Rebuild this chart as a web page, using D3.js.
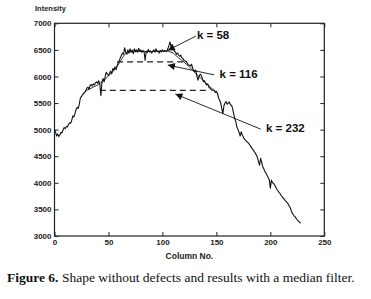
<!DOCTYPE html>
<html><head><meta charset="utf-8">
<script src="https://cdn.jsdelivr.net/npm/d3@7"></script>
<style>body{margin:0;background:#fff}svg{display:block}</style>
</head><body><svg id="c" width="371" height="299"></svg>
<script>
const xTicks=[0,50,100,150,200,250];
const yTicks=[3000,3500,4000,4500,5000,5500,6000,6500,7000];
const rawCols=[0,1,2,3,4,5,6,7,8,9,10,11,12,13,14,15,16,17,18,19,20,21,22,23,24,25,26,27,28,29,30,31,32,33,34,35,36,37,38,39,40,41,42,43,44,45,46,47,48,49,50,51,52,53,54,55,56,57,58,59,60,61,62,63,64,65,66,67,68,69,70,71,72,73,74,75,76,77,78,79,80,81,82,83,84,85,86,87,88,89,90,91,92,93,94,95,96,97,98,99,100,101,102,103,104,105,106,107,108,109,110,111,112,113,114,115,116,117,118,119,120,122,124,126,127,128,130,131,132,133,134,135,136,137,138,139,140,141,142,143,144,146,148,149,150,151,152,153,154,155,156,157,158,159,160,161,162,163,164,165,166,167,168,169,170,171,172,173,174,175,176,178,180,182,184,186,188,189,190,191,192,193,194,195,196,197,198,199,200,201,202,203,204,205,206,207,208,209,210,211,212,213,214,215,216,217,218,219,220,221,222,223,224,225,226,227,228];
const rawVals=[5000,4950,4880,4920,4870,4900,4950,4940,5000,5040,5020,5060,5050,5100,5130,5120,5180,5260,5240,5300,5380,5420,5400,5480,5600,5620,5660,5680,5700,5740,5780,5800,5760,5830,5850,5820,5860,5840,5880,5900,5870,5920,5850,5640,5900,5960,5900,6000,6080,6040,6020,6060,6100,6050,6150,6120,6180,6130,6200,6260,6300,6350,6400,6440,6420,6540,6460,6420,6500,6440,6520,6460,6500,6430,6520,6470,6500,6460,6530,6470,6500,6450,6490,6470,6300,6480,6450,6510,6460,6480,6440,6470,6500,6460,6520,6470,6480,6440,6490,6460,6500,6470,6490,6480,6470,6520,6580,6650,6560,6600,6520,6480,6460,6420,6440,6400,6380,6400,6350,6340,6300,6280,6220,6200,6230,6150,6090,6120,6000,5930,6000,6040,6020,5960,5900,5920,5870,5840,5860,5800,5780,5740,5740,5700,5720,5680,5600,5550,5500,5400,5300,5450,5500,5530,5480,5500,5520,5470,5460,5400,5300,5210,5150,5050,5000,4950,4880,4960,4900,4860,4820,4780,4740,4680,4620,4560,4480,4400,4330,4460,4380,4300,4260,4210,4180,4140,4100,4060,3900,4050,4000,3990,3960,3920,3880,3850,3820,3800,3760,3740,3710,3690,3660,3640,3620,3580,3550,3500,3440,3410,3380,3360,3330,3300,3280,3260,3240];
const k58Cols=[26,30,35,40,45,50,55,60,65,70,80,90,100,105,110,115,120,125,130,135,140,145,150];
const k58Vals=[5660,5740,5790,5840,5910,6010,6110,6250,6420,6460,6470,6470,6475,6480,6440,6350,6270,6180,6070,5980,5880,5790,5700];
const k116Cols=[58,122];
const k116Vals=[6275,6275];
const k232Cols=[42,144];
const k232Vals=[5740,5740];
const annLabels=["k = 58","k = 116","k = 232"];
const annFromCols=[131,148,191];
const annFromVals=[6760,6030,5010];
const annToCols=[105,105,112];
const annToVals=[6490,6215,5670];
const annTextCols=[132,153,196];
const annTextVals=[6700,5980,4950];

const svg=d3.select("#c");
const L=54.5,R=324.3,T=23.3,B=236;
const x=d3.scaleLinear().domain([0,250]).range([L,R]);
const y=d3.scaleLinear().domain([3000,7000]).range([B,T]);
const font="'Liberation Sans',Arial,sans-serif";
const fmt=d3.format("d");

svg.append("defs").append("marker").attr("id","ah").attr("viewBox","0 0 10 10")
 .attr("refX",10).attr("refY",5).attr("markerWidth",9).attr("markerHeight",7).attr("markerUnits","userSpaceOnUse")
 .attr("orient","auto").append("path").attr("d","M0,0L10,5L0,10z").attr("fill","#111");

const ax=(g,a)=>{g.call(a);g.select(".domain").remove();g.selectAll("line").attr("stroke","#222");};
svg.append("g").attr("transform",`translate(0,${B})`).call(g=>ax(g,d3.axisBottom(x).tickValues(xTicks).tickFormat(fmt).tickSizeInner(-4).tickSizeOuter(0).tickPadding(3)))
 .selectAll("text").attr("font-family",font).attr("font-weight","bold").attr("font-size","8px").attr("fill","#222");
svg.append("g").attr("transform",`translate(${L},0)`).call(g=>ax(g,d3.axisLeft(y).tickValues(yTicks).tickFormat(fmt).tickSizeInner(-4).tickSizeOuter(0).tickPadding(3)))
 .selectAll("text").attr("font-family",font).attr("font-weight","bold").attr("font-size","8px").attr("fill","#222");
svg.append("g").attr("transform",`translate(0,${T})`).call(g=>ax(g,d3.axisTop(x).tickValues(xTicks).tickSizeInner(-4).tickSizeOuter(0).tickFormat("")));
svg.append("g").attr("transform",`translate(${R},0)`).call(g=>ax(g,d3.axisRight(y).tickValues(yTicks).tickSizeInner(-4).tickSizeOuter(0).tickFormat("")));
svg.append("rect").attr("x",L).attr("y",T).attr("width",R-L).attr("height",B-T).attr("fill","none").attr("stroke","#222").attr("stroke-width",1.2);

const line=d3.line().x(d=>x(d[0])).y(d=>y(d[1]));
const raw=rawCols.map((c,i)=>[c,rawVals[i]]);
svg.append("path").attr("d",line(k58Cols.map((c,i)=>[c,k58Vals[i]]))).attr("fill","none").attr("stroke","#222").attr("stroke-width",0.9).attr("stroke-linejoin","round");
svg.append("path").attr("d",line(raw)).attr("fill","none").attr("stroke","#111").attr("stroke-width",1.1).attr("stroke-linejoin","round");
svg.append("path").attr("d",line(k116Cols.map((c,i)=>[c,k116Vals[i]]))).attr("fill","none").attr("stroke","#222").attr("stroke-width",1.3).attr("stroke-dasharray","6,4");
svg.append("path").attr("d",line(k232Cols.map((c,i)=>[c,k232Vals[i]]))).attr("fill","none").attr("stroke","#222").attr("stroke-width",1.3).attr("stroke-dasharray","6,4");

annLabels.forEach((lab,i)=>{
 svg.append("line").attr("x1",x(annFromCols[i])).attr("y1",y(annFromVals[i])).attr("x2",x(annToCols[i])).attr("y2",y(annToVals[i]))
  .attr("stroke","#111").attr("stroke-width",0.9).attr("marker-end","url(#ah)");
 svg.append("text").attr("x",x(annTextCols[i])).attr("y",y(annTextVals[i])).attr("font-family",font).attr("font-weight","bold")
  .attr("font-size","11.5px").attr("fill","#111").text(lab);
});

svg.append("text").attr("x",35).attr("y",11).attr("font-family",font).attr("font-weight","bold").attr("font-size","7.5px").attr("fill","#222").text("Intensity");
svg.append("text").attr("x",(L+R)/2).attr("y",259).attr("text-anchor","middle").attr("font-family",font).attr("font-weight","600").attr("font-size","8.5px").attr("fill","#222").text("Column No.");
const cap=svg.append("text").attr("x",7).attr("y",282).attr("font-family","'Liberation Serif','Times New Roman',serif").attr("font-size","13.5px").attr("fill","#111");
cap.append("tspan").attr("font-weight","bold").text("Figure 6.");
cap.append("tspan").text(" Shape without defects and results with a median filter.");
</script></body></html>
